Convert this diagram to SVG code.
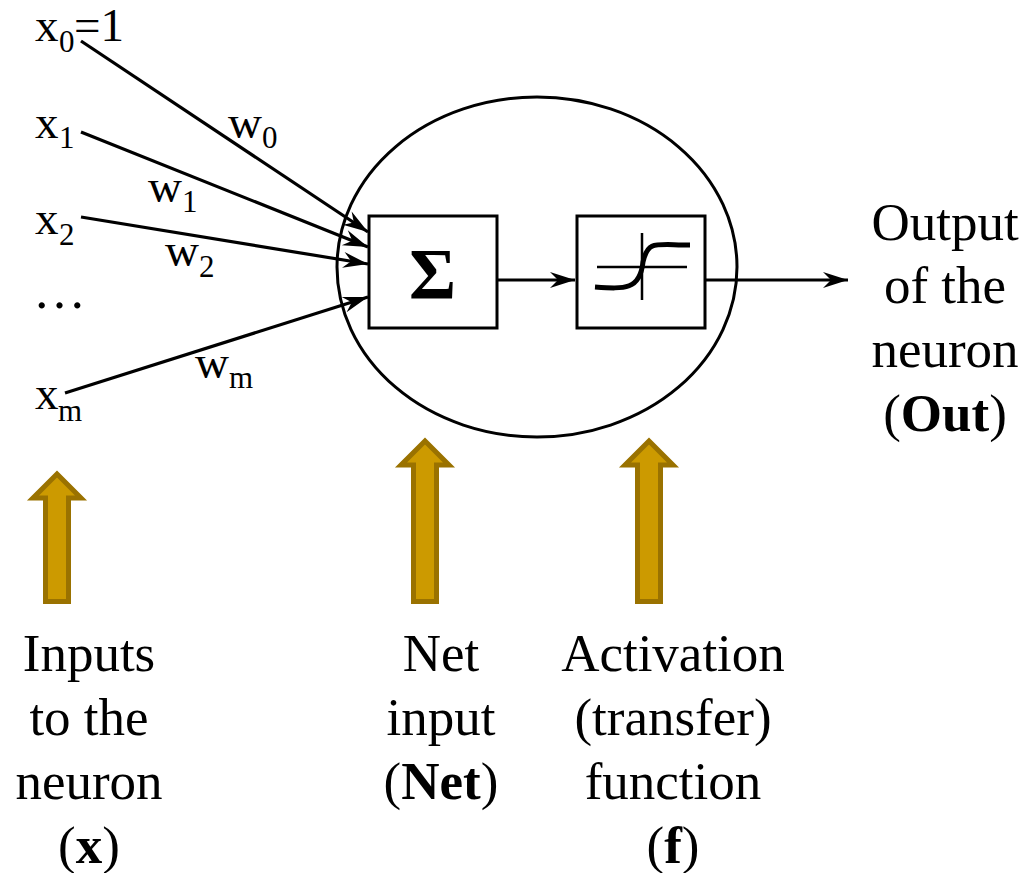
<svg xmlns="http://www.w3.org/2000/svg" width="1036" height="873" viewBox="0 0 1036 873">
<style>
text{font-family:"Liberation Serif","Times New Roman",serif;fill:#000}
.l{font-size:53px;text-anchor:middle}
.v{font-size:47px}
.s{font-size:31px}
.c{fill:none;stroke:#000;stroke-width:3.200;marker-end:url(#a)}
.b{fill:#fff;stroke:#000;stroke-width:3}
.u{fill:#cc9a00;stroke:#9a7200;stroke-width:5;stroke-miterlimit:10}
</style>
<defs>
<marker id="a" markerUnits="userSpaceOnUse" markerWidth="26" markerHeight="18" refX="25" refY="9" orient="auto" overflow="visible"><path d="M0 1L25 9L0 17L8 9Z" fill="#000"/></marker>
<path id="up" d="M0 0L24 24H11.500V160.500H-11.500V24H-24Z"/>
<path id="up2" d="M0 0L24 24H11.500V127.500H-11.500V24H-24Z"/>
</defs>
<rect width="1036" height="873" fill="#fff"/>
<g id="neuron"><ellipse cx="537" cy="267" rx="200" ry="170" fill="none" stroke="#000" stroke-width="3"/></g>
<g id="connectors">
<line class="c" x1="81" y1="41" x2="368" y2="232"/>
<line class="c" x1="81" y1="132" x2="368" y2="247"/>
<line class="c" x1="81" y1="217" x2="368" y2="264"/>
<line class="c" x1="65" y1="393" x2="368" y2="297"/>
<line class="c" x1="498" y1="280" x2="575" y2="280"/>
<line class="c" x1="706" y1="280" x2="848" y2="280"/>
</g>
<g id="sum"><rect class="b" x="369" y="216" width="128" height="112"/><text x="432.500" y="298" text-anchor="middle" font-size="72" font-weight="bold">Σ</text></g>
<g id="activation"><rect class="b" x="577" y="216" width="128" height="112"/>
<path d="M597 267H687M642 233V300" fill="none" stroke="#000" stroke-width="2.500"/>
<path d="M595 287C625 289 640 290 643 262C648 240 655 245 690 245" fill="none" stroke="#000" stroke-width="5"/></g>
<g id="input-x0"><text class="v" x="35" y="41">x<tspan class="s" x="59" dy="11">0</tspan><tspan x="74" dy="-11">=1</tspan></text></g>
<g id="input-x1"><text class="v" x="35" y="138">x<tspan class="s" x="59" dy="10">1</tspan></text></g>
<g id="input-x2"><text class="v" x="35" y="234">x<tspan class="s" x="59" dy="11">2</tspan></text></g>
<g id="input-dots"><text class="l" style="text-anchor:start" x="33" y="308">…</text></g>
<g id="input-xm"><text class="v" x="35" y="409">x<tspan class="s" x="58" dy="12">m</tspan></text></g>
<g id="w0"><text class="v" x="228" y="138">w<tspan class="s" x="262" dy="10">0</tspan></text></g>
<g id="w1"><text class="v" x="148" y="202">w<tspan class="s" x="182" dy="10">1</tspan></text></g>
<g id="w2"><text class="v" x="165" y="266">w<tspan class="s" x="199" dy="11">2</tspan></text></g>
<g id="wm"><text class="v" x="195" y="378">w<tspan class="s" x="229" dy="10">m</tspan></text></g>
<g id="arrow-inputs"><use class="u" href="#up2" x="57" y="474"/></g>
<g id="arrow-net"><use class="u" href="#up" x="425" y="441"/></g>
<g id="arrow-activation"><use class="u" href="#up" x="649" y="441"/></g>
<g id="label-out"><text class="l" x="945" y="240">Output</text><text class="l" x="945" y="303">of the</text><text class="l" x="945" y="367">neuron</text><text class="l" x="945" y="431">(<tspan font-weight="bold">Out</tspan>)</text></g>
<g id="label-inputs"><text class="l" x="89" y="671">Inputs</text><text class="l" x="89" y="735">to the</text><text class="l" x="89" y="799">neuron</text><text class="l" x="89" y="863">(<tspan font-weight="bold">x</tspan>)</text></g>
<g id="label-net"><text class="l" x="441" y="671">Net</text><text class="l" x="441" y="735">input</text><text class="l" x="441" y="799">(<tspan font-weight="bold">Net</tspan>)</text></g>
<g id="label-activation"><text class="l" x="673" y="671">Activation</text><text class="l" x="673" y="735">(transfer)</text><text class="l" x="673" y="799">function</text><text class="l" x="673" y="863">(<tspan font-weight="bold">f</tspan>)</text></g>
</svg>
